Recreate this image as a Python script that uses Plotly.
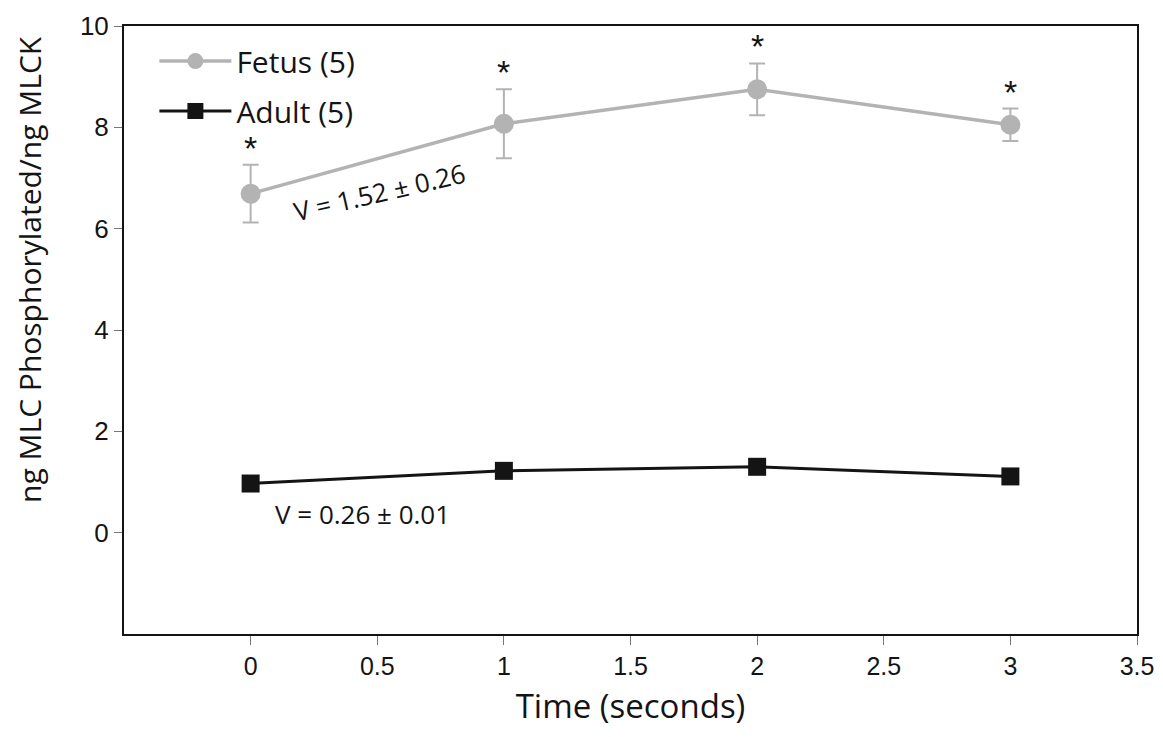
import plotly.graph_objects as go

time_s = [0, 1, 2, 3]
fetus_mean = [6.69, 8.07, 8.75, 8.05]
fetus_err = [0.57, 0.68, 0.51, 0.32]
adult_mean = [0.97, 1.22, 1.30, 1.11]
x_ticks = [0, 0.5, 1, 1.5, 2, 2.5, 3, 3.5]
x_tick_labels = ["0", "0.5", "1", "1.5", "2", "2.5", "3", "3.5"]
y_ticks = [0, 2, 4, 6, 8, 10]

GREY = "#b3b3b3"
DARK = "#141414"
TXT_FONT = "Open Sans"

fig = go.Figure()
fig.add_trace(go.Scatter(
    x=time_s, y=fetus_mean, name="Fetus (5)", mode="lines+markers",
    legendgroup="f",
    line=dict(color=GREY, width=3.5),
    marker=dict(symbol="circle", size=20, color=GREY),
    error_y=dict(type="data", array=fetus_err, visible=True, color=GREY, thickness=2, width=8),
))
fig.add_trace(go.Scatter(
    x=time_s, y=adult_mean, name="Adult (5)", mode="lines+markers",
    legendgroup="a",
    line=dict(color=DARK, width=3),
    marker=dict(symbol="square", size=18, color=DARK),
))

# significance asterisks above fetus error bars
for xv, m, e in zip(time_s, fetus_mean, fetus_err):
    fig.add_annotation(x=xv, y=m + e, text="*", showarrow=False, yanchor="middle",
                       yshift=17, font=dict(size=34, color=DARK, family="Liberation Sans"))

fig.add_annotation(x=0.51, y=6.72, text="V = 1.52 ± 0.26", showarrow=False, textangle=-13,
                   font=dict(size=26, color=DARK, family=TXT_FONT))
fig.add_annotation(x=0.44, y=0.37, text="V = 0.26 ± 0.01", showarrow=False,
                   font=dict(size=26, color=DARK, family=TXT_FONT))

# y-axis title (placed slightly above centre, as in the reference)
fig.add_annotation(xref="paper", yref="paper", x=-0.094, y=0.6, text="ng MLC Phosphorylated/ng MLCK",
                   showarrow=False, textangle=-90, xanchor="center", yanchor="middle",
                   font=dict(size=30, color=DARK, family=TXT_FONT))

fig.update_layout(
    width=1163, height=737,
    margin=dict(l=116, r=34, t=18, b=111),
    paper_bgcolor="white", plot_bgcolor="white",
    showlegend=True,
    legend=dict(x=0.03, y=0.985, xanchor="left", yanchor="top",
                bgcolor="rgba(0,0,0,0)", font=dict(size=30, color=DARK, family=TXT_FONT),
                itemwidth=72, tracegroupgap=8),
    xaxis=dict(range=[-0.5, 3.5], tickvals=x_ticks, ticktext=x_tick_labels, automargin=False,
               showgrid=False, zeroline=False, showline=True, mirror=True,
               linecolor=DARK, linewidth=2, ticks="outside", ticklen=9, tickcolor="#777",
               tickwidth=1,
               tickfont=dict(size=25, color=DARK, family="Liberation Sans Narrow, Liberation Sans"),
               title=dict(text="Time (seconds)", font=dict(size=33, color=DARK, family=TXT_FONT),
                          standoff=16)),
    yaxis=dict(range=[-2, 10], tickvals=y_ticks, automargin=False,
               showgrid=False, zeroline=False, showline=True, mirror=True,
               linecolor=DARK, linewidth=2, ticks="outside", ticklen=8, tickcolor="#777",
               tickwidth=1,
               tickfont=dict(size=26, color=DARK, family="Liberation Sans"),
               title=dict(text="")),
)

fig.write_html("out.html")
